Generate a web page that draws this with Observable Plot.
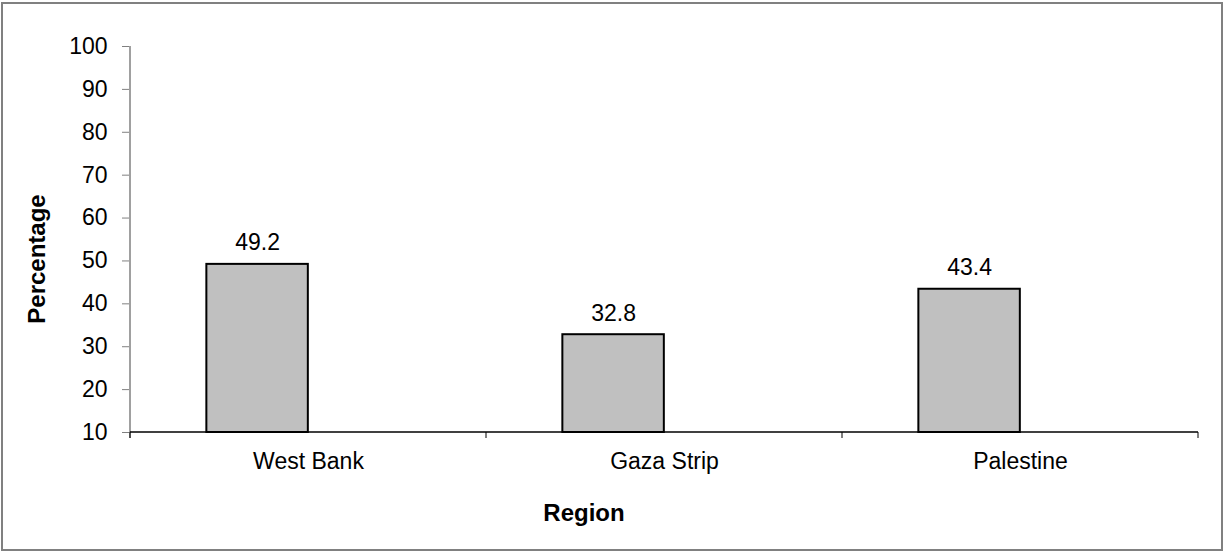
<!DOCTYPE html>
<html>
<head>
<meta charset="utf-8">
<script src="https://cdn.jsdelivr.net/npm/d3@7"></script>
<script src="https://cdn.jsdelivr.net/npm/@observablehq/plot@0.6"></script>
<style>
  html, body { margin: 0; padding: 0; background: #fff; overflow: hidden; }
  #wrap { position: relative; width: 1224px; height: 552px; }
  #frame { position: absolute; left: 1px; top: 2px; width: 1218px; height: 545px; border: 2px solid #808080; box-sizing: content-box; pointer-events: none; }
  #chart { position: absolute; left: 0; top: 0; }
</style>
</head>
<body>
<div id="wrap">
  <div id="chart"></div>
  <div id="frame"></div>
</div>
<script>
// ---- data ----
const regions = ["West Bank", "Gaza Strip", "Palestine"];
const values = [49.2, 32.8, 43.4];
const yTicks = [10, 20, 30, 40, 50, 60, 70, 80, 90, 100];
const yTitle = "Percentage";
const xTitle = "Region";

const data = regions.map((r, i) => ({ region: r, value: values[i] }));

// ---- layout ----
const W = 1224, H = 552;
const mL = 129, mR = 26, mT = 46, mB = 120;
const band = (W - mL - mR) / regions.length;
const barW = band / 3.5; // Excel clustered layout, gap width 150%
const font = "Arial, 'Liberation Sans', sans-serif";
const fs = 23;

const chart = Plot.plot({
  width: W,
  height: H,
  marginLeft: mL,
  marginRight: mR,
  marginTop: mT,
  marginBottom: mB,
  style: { fontFamily: font, fontSize: fs + "px", color: "#000", background: "transparent", overflow: "visible" },
  x: { domain: regions, padding: 0, label: null },
  y: { domain: [10, 100], label: null },
  marks: [
    Plot.axisY({ ticks: yTicks, tickSize: 7, tickPadding: 15, stroke: "#808080", fill: "#000", label: null, fontSize: fs }),
    Plot.axisX({ tickSize: 0, tickPadding: 20, label: null, fontSize: fs }),
    Plot.barY(data, {
      x: "region", y1: 10, y2: "value",
      fill: "#c0c0c0", stroke: "#000", strokeWidth: 2,
      insetLeft: barW * 0.75, insetRight: barW * 1.75
    }),
    Plot.text(data, {
      x: "region", y: "value", text: d => d.value.toFixed(1),
      dx: -barW / 2, dy: -14, lineAnchor: "bottom", fontSize: fs, fill: "#000"
    })
  ]
});

// axis lines and category boundary ticks from the chart's scales
const xs = chart.scale("x"), ys = chart.scale("y");
const svg = d3.select(chart);
const y0 = ys.apply(10), yTop = ys.apply(100);
const x0 = xs.apply(regions[0]);
const xEnd = xs.apply(regions[regions.length - 1]) + xs.bandwidth;
const g = svg.append("g");
g.append("line").attr("x1", x0).attr("x2", x0).attr("y1", yTop).attr("y2", y0 + 6)
  .attr("stroke", "#808080").attr("stroke-width", 1.5);
g.append("line").attr("x1", x0).attr("x2", xEnd).attr("y1", y0).attr("y2", y0)
  .attr("stroke", "#000").attr("stroke-width", 1.5);
const bounds = regions.map(r => xs.apply(r)).concat([xEnd]);
g.selectAll("line.b").data(bounds).join("line").attr("class", "b")
  .attr("x1", d => d).attr("x2", d => d).attr("y1", y0).attr("y2", y0 + 6)
  .attr("stroke", "#000").attr("stroke-width", 1);

// axis titles
svg.append("text")
  .attr("transform", `translate(45,${(yTop + y0) / 2 + 20}) rotate(-90)`)
  .attr("text-anchor", "middle")
  .attr("font-family", font).attr("font-size", 24).attr("font-weight", "bold")
  .text(yTitle);
svg.append("text")
  .attr("x", (x0 + xEnd) / 2 - 80).attr("y", 521)
  .attr("text-anchor", "middle")
  .attr("font-family", font).attr("font-size", 24).attr("font-weight", "bold")
  .text(xTitle);

document.getElementById("chart").appendChild(chart);
</script>
</body>
</html>
